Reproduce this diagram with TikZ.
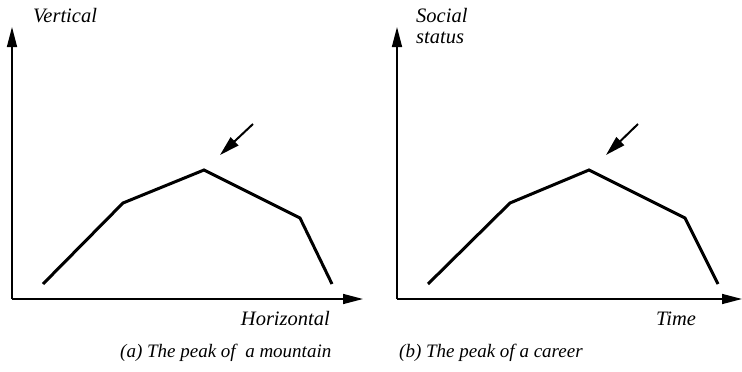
\documentclass[tikz,border=0pt]{standalone}
\usepackage{fontspec}
\setmainfont{Liberation Serif}
\usetikzlibrary{arrows.meta}

\begin{document}
\begin{tikzpicture}[
    x=1pt, y=-1pt,
    axis/.style={-{Triangle[length=20pt,width=10pt]}, line width=1.5pt},
    profile/.style={line width=3pt, line join=miter},
    pointer/.style={-{Triangle[length=20pt,width=11pt]}, line width=2pt},
    label/.style={inner sep=0pt, font=\itshape\fontsize{20.5}{21}\selectfont},
    caption/.style={inner sep=0pt, font=\itshape\fontsize{19}{21}\selectfont}
]
\useasboundingbox (0,0) rectangle (742,372);

% Left plot: mountain
\coordinate (oA) at (12,299);
\coordinate (yA) at (12,27);
\coordinate (xA) at (363,299);
\draw[axis] (oA) -- (yA);
\draw[axis] (oA) -- (xA);

\coordinate (a1) at (43,284);
\coordinate (a2) at (123,203);
\coordinate (a3) at (204,170);
\coordinate (a4) at (300,218);
\coordinate (a5) at (332,284);
\draw[profile] (a1) -- (a2) -- (a3) -- (a4) -- (a5);

\coordinate (pA) at (253,124);
\coordinate (tA) at (220,155);
\draw[pointer] (pA) -- (tA);

\node[label, anchor=base west] (vert) at (33,22) {Vertical};
\node[label, anchor=base east] (horiz) at (330,325) {Horizontal};
\node[caption, anchor=base west] (capA) at (120,357) {(a) The peak of \ a mountain};

% Right plot: career
\coordinate (oB) at (397,299);
\coordinate (yB) at (397,27);
\coordinate (xB) at (742,299);
\draw[axis] (oB) -- (yB);
\draw[axis] (oB) -- (xB);

\coordinate (b1) at (428,284);
\coordinate (b2) at (510,203);
\coordinate (b3) at (589,170);
\coordinate (b4) at (685,218);
\coordinate (b5) at (718,284);
\draw[profile] (b1) -- (b2) -- (b3) -- (b4) -- (b5);

\coordinate (pB) at (638,124);
\coordinate (tB) at (606,155);
\draw[pointer] (pB) -- (tB);

\node[label, anchor=base west] (status) at (416,22) {Social};
\node[label, anchor=base west] (status2) at (416,43) {status};
\node[label, anchor=base west] (time) at (656,325) {Time};
\node[caption, anchor=base west] (capB) at (399,357) {(b) The peak of a career};

\end{tikzpicture}
\end{document}
